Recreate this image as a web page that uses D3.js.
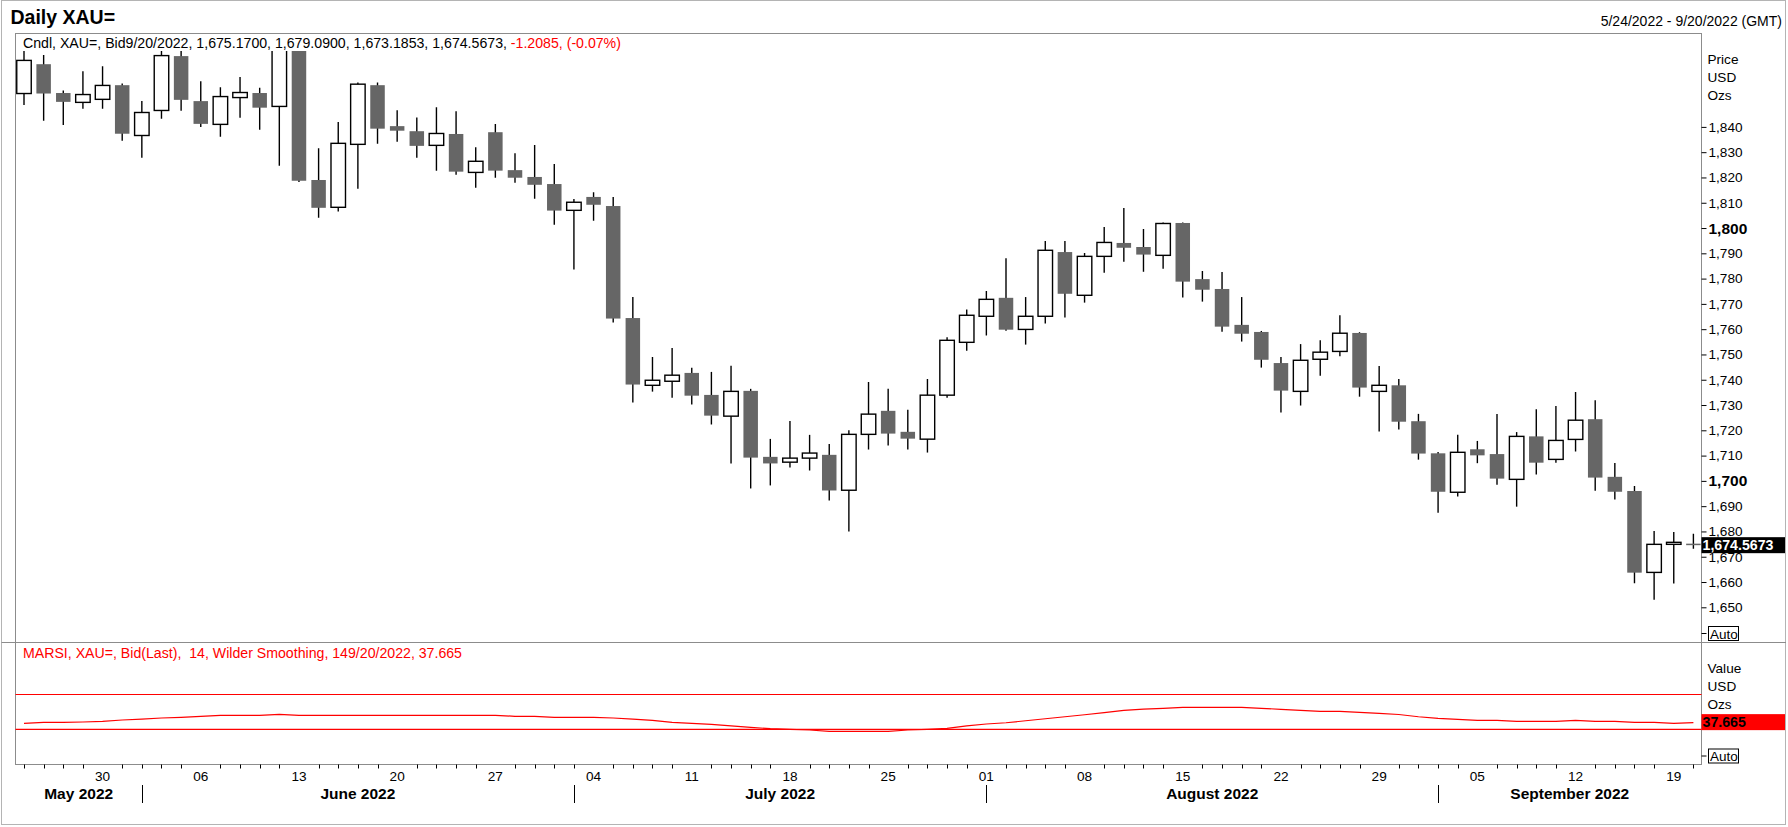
<!DOCTYPE html>
<html>
<head>
<meta charset="utf-8">
<script src="https://cdn.jsdelivr.net/npm/d3@7"></script>
<style>
  body { margin: 0; background: #fff; }
  svg { display: block; font-family: "Liberation Sans", Arial, sans-serif; }
</style>
</head>
<body>
<div id="chart"></div>
<script>
// daily XAU= bid candles
const dates = [
  "2022-05-24","2022-05-25","2022-05-26","2022-05-27","2022-05-30","2022-05-31",
  "2022-06-01","2022-06-02","2022-06-03","2022-06-06","2022-06-07","2022-06-08","2022-06-09","2022-06-10",
  "2022-06-13","2022-06-14","2022-06-15","2022-06-16","2022-06-17","2022-06-20","2022-06-21","2022-06-22",
  "2022-06-23","2022-06-24","2022-06-27","2022-06-28","2022-06-29","2022-06-30",
  "2022-07-01","2022-07-04","2022-07-05","2022-07-06","2022-07-07","2022-07-08","2022-07-11","2022-07-12",
  "2022-07-13","2022-07-14","2022-07-15","2022-07-18","2022-07-19","2022-07-20","2022-07-21","2022-07-22",
  "2022-07-25","2022-07-26","2022-07-27","2022-07-28","2022-07-29",
  "2022-08-01","2022-08-02","2022-08-03","2022-08-04","2022-08-05","2022-08-08","2022-08-09","2022-08-10",
  "2022-08-11","2022-08-12","2022-08-15","2022-08-16","2022-08-17","2022-08-18","2022-08-19","2022-08-22",
  "2022-08-23","2022-08-24","2022-08-25","2022-08-26","2022-08-29","2022-08-30","2022-08-31",
  "2022-09-01","2022-09-02","2022-09-05","2022-09-06","2022-09-07","2022-09-08","2022-09-09","2022-09-12",
  "2022-09-13","2022-09-14","2022-09-15","2022-09-16","2022-09-19","2022-09-20"
];

const open = [
  1853.2, 1864.8, 1853.4, 1849.7, 1850.9, 1856.5,
  1836.6, 1846.5, 1868.0, 1850.2, 1841.0, 1851.6, 1853.4, 1848.1,
  1874.0, 1819.0, 1808.2, 1833.1, 1856.5, 1840.3, 1838.3, 1832.7,
  1837.2, 1822.0, 1837.9, 1822.9, 1820.2, 1817.4,
  1807.0, 1812.3, 1808.7, 1764.4, 1737.8, 1739.4, 1742.7, 1734.0,
  1725.6, 1735.6, 1709.5, 1707.4, 1709.0, 1710.3, 1696.3, 1718.4,
  1727.7, 1719.4, 1716.5, 1733.9, 1754.8,
  1765.1, 1772.4, 1759.9, 1765.1, 1790.5, 1773.4, 1788.8, 1794.1,
  1792.5, 1789.2, 1802.0, 1779.8, 1775.9, 1761.7, 1758.9, 1746.6,
  1735.4, 1748.1, 1751.2, 1758.5, 1735.4, 1737.8, 1723.6,
  1710.9, 1695.5, 1712.5, 1710.6, 1700.6, 1717.6, 1708.5, 1716.4,
  1724.4, 1701.6, 1696.0, 1663.8, 1674.9, 1675.17
];
const high = [
  1870.0, 1868.4, 1854.4, 1862.0, 1864.0, 1857.2,
  1850.2, 1871.0, 1872.0, 1858.1, 1855.7, 1859.7, 1855.5, 1875.0,
  1878.0, 1831.6, 1841.9, 1857.6, 1857.6, 1846.6, 1843.7, 1847.8,
  1846.2, 1832.0, 1841.1, 1829.6, 1832.8, 1825.3,
  1811.5, 1814.2, 1812.3, 1772.7, 1749.0, 1752.6, 1744.7, 1743.1,
  1745.5, 1736.4, 1716.6, 1723.7, 1718.2, 1714.6, 1720.0, 1739.1,
  1736.4, 1728.1, 1740.3, 1756.8, 1767.8,
  1775.1, 1788.1, 1772.7, 1794.9, 1794.9, 1790.1, 1800.4, 1807.9,
  1799.6, 1802.2, 1802.2, 1783.0, 1782.6, 1772.7, 1759.3, 1749.0,
  1754.1, 1755.6, 1765.5, 1758.8, 1745.4, 1740.3, 1726.5,
  1711.4, 1718.2, 1715.8, 1726.5, 1719.3, 1728.3, 1729.6, 1735.2,
  1731.9, 1707.1, 1698.0, 1680.2, 1679.8, 1679.09
];
const low = [
  1848.7, 1842.4, 1840.8, 1847.2, 1847.2, 1834.5,
  1827.8, 1843.2, 1846.4, 1840.0, 1836.1, 1843.6, 1838.9, 1824.6,
  1818.2, 1804.1, 1806.5, 1815.5, 1833.3, 1834.1, 1827.8, 1822.7,
  1821.1, 1815.9, 1819.9, 1817.9, 1811.6, 1801.3,
  1783.6, 1802.9, 1762.6, 1731.0, 1735.3, 1732.9, 1730.2, 1722.3,
  1706.9, 1697.0, 1698.2, 1705.3, 1704.1, 1692.2, 1680.0, 1712.4,
  1714.0, 1712.4, 1711.2, 1732.9, 1751.5,
  1757.5, 1759.4, 1753.9, 1762.2, 1764.6, 1770.5, 1782.3, 1786.7,
  1782.7, 1783.9, 1772.5, 1770.9, 1759.0, 1755.1, 1744.8, 1727.0,
  1729.8, 1741.6, 1749.3, 1733.3, 1719.5, 1720.3, 1708.4,
  1687.4, 1693.8, 1707.0, 1698.5, 1689.8, 1702.5, 1707.2, 1711.6,
  1696.1, 1692.6, 1659.5, 1653.0, 1659.4, 1673.19
];
const close = [
  1866.3, 1853.2, 1849.9, 1852.8, 1856.4, 1837.3,
  1845.7, 1868.2, 1850.7, 1841.2, 1852.0, 1853.6, 1847.6, 1871.5,
  1818.7, 1808.0, 1833.5, 1856.9, 1839.3, 1838.5, 1832.5, 1837.4,
  1822.3, 1826.4, 1822.7, 1819.9, 1817.1, 1806.9,
  1810.2, 1809.2, 1764.2, 1738.1, 1739.8, 1741.8, 1733.7, 1725.8,
  1735.4, 1709.2, 1706.9, 1709.0, 1711.0, 1696.2, 1718.4, 1726.4,
  1718.7, 1716.7, 1733.9, 1755.6, 1765.5,
  1771.8, 1759.8, 1765.1, 1791.2, 1774.0, 1788.8, 1794.3, 1792.2,
  1789.5, 1801.8, 1778.8, 1775.6, 1761.0, 1758.2, 1747.9, 1735.7,
  1747.7, 1750.9, 1758.4, 1736.9, 1737.8, 1723.4, 1710.8,
  1695.7, 1711.3, 1710.1, 1700.9, 1717.6, 1707.2, 1716.0, 1724.0,
  1701.3, 1695.7, 1663.7, 1674.9, 1675.7, 1674.57
];

// MARSI line values
const rsi = [
  36.9, 38.0, 38.0, 38.4, 39.2, 40.7, 41.8, 43.0, 43.8, 44.9, 46.1, 46.1, 46.1, 47.2,
  46.1, 46.1, 46.1, 46.1, 46.1, 46.1, 46.1, 46.1, 46.1, 46.1, 46.1,
  44.9, 44.9, 43.8, 43.8, 43.8, 43.0, 41.8, 40.3, 38.0, 36.9, 35.7, 34.0, 32.3, 30.7,
  30.0, 29.2, 27.7, 27.7, 27.7, 27.7, 29.2, 30.0, 31.1, 34.0, 36.1, 37.5, 39.8, 42.1,
  44.4, 46.7, 49.2, 51.7, 53.1, 54.1, 55.3, 55.3, 55.3, 55.3, 54.1, 53.0, 51.8, 50.7,
  50.7, 49.5, 48.4, 47.0, 44.4, 42.6, 41.5, 40.3, 40.3, 39.2, 39.2, 39.2, 40.3, 39.2,
  39.2, 38.0, 38.0, 36.9, 37.665
];

const priceTicks = [1650, 1660, 1670, 1680, 1690, 1700, 1710, 1720, 1730, 1740,
                    1750, 1760, 1770, 1780, 1790, 1800, 1810, 1820, 1830, 1840];
const boldTicks = [1700, 1800];
const rsiLevels = [30, 70];
const months = ["May 2022", "June 2022", "July 2022", "August 2022", "September 2022"];

const W = 1788, H = 827;
const pL = 15.5, pR = 1701.5, pT = 33.5, pMid = 642.5, pB = 764.5;
const frame = "#8c8c8c";

const svg = d3.select("#chart").append("svg")
  .attr("width", W).attr("height", H)
  .style("background", "#fff");

const parse = d3.timeParse("%Y-%m-%d");
const days = dates.map(parse);

const x = d3.scalePoint().domain(dates).range([24, 1693.4]);
const y = d3.scaleLinear().domain([1650, 1840]).range([607.3, 126.9]);
const yr = d3.scaleLinear().domain([30, 70]).range([729.3, 694.5]);

// outer border and panel frames
svg.append("rect").attr("x", 1.5).attr("y", 0.5).attr("width", 1784).attr("height", 824)
  .attr("fill", "none").attr("stroke", "#b4b4b4");
svg.append("rect").attr("x", pL).attr("y", pT).attr("width", pR - pL).attr("height", pB - pT)
  .attr("fill", "none").attr("stroke", frame);
svg.append("line").attr("x1", 1.5).attr("x2", 1786).attr("y1", pMid).attr("y2", pMid)
  .attr("stroke", frame);

// titles
svg.append("text").attr("x", 10.5).attr("y", 24).attr("font-size", 19.5).attr("font-weight", "bold")
  .text("Daily XAU=");
svg.append("text").attr("x", 1782).attr("y", 26).attr("font-size", 14).attr("text-anchor", "end")
  .text("5/24/2022 - 9/20/2022 (GMT)");

const hdr = svg.append("text").attr("x", 23).attr("y", 47.5).attr("font-size", 14.15);
hdr.append("tspan").text("Cndl, XAU=, Bid9/20/2022, 1,675.1700, 1,679.0900, 1,673.1853, 1,674.5673, ");
hdr.append("tspan").attr("fill", "#ff0000").text("-1.2085, (-0.07%)");

svg.append("text").attr("x", 23).attr("y", 657.5).attr("font-size", 14.15).attr("fill", "#ff0000")
  .style("white-space", "pre")
  .text("MARSI, XAU=, Bid(Last),  14, Wilder Smoothing, 149/20/2022, 37.665");

// candles
svg.append("clipPath").attr("id", "pclip").append("rect")
  .attr("x", pL).attr("y", 51).attr("width", pR - pL).attr("height", pMid - 51);

const bw = 14.5;
const candles = svg.append("g").attr("clip-path", "url(#pclip)")
  .selectAll("g").data(dates).join("g");

candles.append("line")
  .attr("x1", d => x(d)).attr("x2", d => x(d))
  .attr("y1", (d, i) => y(high[i])).attr("y2", (d, i) => y(low[i]))
  .attr("stroke", "#000").attr("stroke-width", 1.4);

candles.append("rect")
  .attr("x", d => x(d) - bw / 2)
  .attr("y", (d, i) => y(Math.max(open[i], close[i])))
  .attr("width", bw)
  .attr("height", (d, i) => Math.max(1.5, Math.abs(y(open[i]) - y(close[i]))))
  .attr("fill", (d, i) => close[i] >= open[i] ? "#fff" : "#666")
  .attr("stroke", (d, i) => close[i] >= open[i] ? "#000" : "none")
  .attr("stroke-width", 1.4);

// price axis
const pAxis = svg.append("g").attr("transform", `translate(${pR},0)`)
  .call(d3.axisRight(y).tickValues(priceTicks).tickFormat(d3.format(",")).tickSize(5).tickPadding(2));
pAxis.select(".domain").remove();
pAxis.selectAll("line").attr("stroke", "#000");
pAxis.selectAll("text")
  .attr("font-family", "Liberation Sans, Arial, sans-serif")
  .attr("font-size", d => boldTicks.includes(d) ? 15.5 : 13.6)
  .attr("font-weight", d => boldTicks.includes(d) ? "bold" : "normal")
  .attr("fill", "#000");

["Price", "USD", "Ozs"].forEach((t, i) =>
  svg.append("text").attr("x", 1707.5).attr("y", 63.5 + i * 18).attr("font-size", 13.6).text(t));
["Value", "USD", "Ozs"].forEach((t, i) =>
  svg.append("text").attr("x", 1707.5).attr("y", 672.5 + i * 18).attr("font-size", 13.6).text(t));

// Auto boxes
[633.5, 756].forEach(cy => {
  svg.append("line").attr("x1", pR).attr("x2", pR + 5).attr("y1", cy).attr("y2", cy).attr("stroke", "#000");
  svg.append("rect").attr("x", 1708.5).attr("y", cy - 7).attr("width", 30).attr("height", 14)
    .attr("fill", "#fff").attr("stroke", "#000");
  svg.append("text").attr("x", 1710).attr("y", cy + 5).attr("font-size", 13.5).text("Auto");
});

// last price marker
const last = close.length - 1;
svg.append("rect").attr("x", pR).attr("y", y(close[last]) - 8).attr("width", 83.5).attr("height", 16)
  .attr("fill", "#000");
svg.append("text").attr("x", 1702.5).attr("y", y(close[last]) + 5).attr("font-size", 14.2)
  .attr("font-weight", "bold").attr("fill", "#fff").text(d3.format(",.4f")(1674.5673));

// RSI panel
svg.append("g").selectAll("line").data(rsiLevels).join("line")
  .attr("x1", pL).attr("x2", pR)
  .attr("y1", d => yr(d)).attr("y2", d => yr(d))
  .attr("stroke", "#ff0000").attr("stroke-width", 1.2);

svg.append("path")
  .datum(rsi)
  .attr("fill", "none").attr("stroke", "#ff0000").attr("stroke-width", 1.2)
  .attr("d", d3.line().x((d, i) => x(dates[i])).y(d => yr(d)));

svg.append("rect").attr("x", pR).attr("y", yr(rsi[last]) - 8.5).attr("width", 83.5).attr("height", 16)
  .attr("fill", "#ff0000");
svg.append("text").attr("x", 1702.5).attr("y", yr(rsi[last]) + 4.5).attr("font-size", 14.2)
  .attr("font-weight", "bold").attr("fill", "#000").text(rsi[last].toFixed(3));

// date axis
const isMonday = i => days[i].getDay() === 1;
svg.append("g").selectAll("line").data(dates.filter((d, i) => !isMonday(i))).join("line")
  .attr("x1", d => Math.round(x(d)) + 0.5).attr("x2", d => Math.round(x(d)) + 0.5)
  .attr("y1", pB).attr("y2", pB + 4)
  .attr("stroke", "#000");

svg.append("g").selectAll("text").data(dates.filter((d, i) => isMonday(i))).join("text")
  .attr("x", d => x(d)).attr("y", 781)
  .attr("text-anchor", "middle").attr("font-size", 13.6)
  .text(d => d3.timeFormat("%d")(parse(d)));

const starts = dates.filter((d, i) => i > 0 && days[i].getMonth() !== days[i - 1].getMonth());
svg.append("g").selectAll("line").data(starts).join("line")
  .attr("x1", d => Math.round(x(d)) + 0.5).attr("x2", d => Math.round(x(d)) + 0.5)
  .attr("y1", 785).attr("y2", 803)
  .attr("stroke", "#000");

const edges = [pL].concat(starts.map(d => x(d)), [pR]);
svg.append("g").selectAll("text").data(months).join("text")
  .attr("x", (d, i) => (edges[i] + edges[i + 1]) / 2).attr("y", 799)
  .attr("text-anchor", "middle").attr("font-size", 15.5).attr("font-weight", "bold")
  .text(d => d);
</script>
</body>
</html>
